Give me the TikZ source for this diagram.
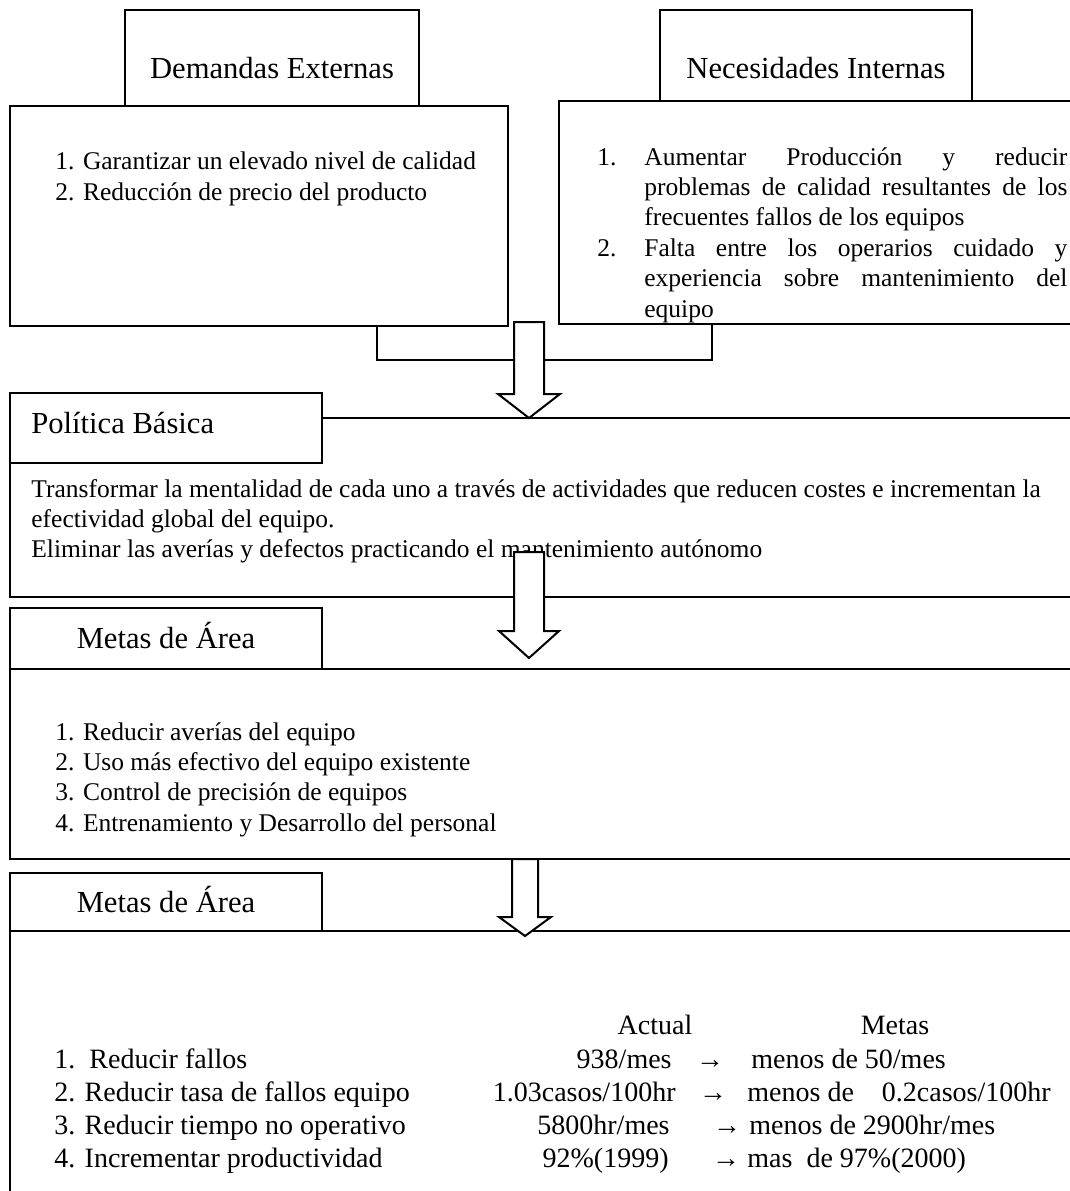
\documentclass[tikz,border=0pt]{standalone}
\usepackage{fontspec}
\setmainfont{Liberation Serif}
\usetikzlibrary{fit}
\begin{document}
\begin{tikzpicture}[x=0.5pt,y=-0.5pt,
  frame/.style={draw, line width=1pt, inner sep=0pt, fill=white},
  ttl/.style={font=\fontsize{15.3}{18}\selectfont, inner sep=0pt},
  txt/.style={font=\fontsize{12.75}{15}\selectfont, inner sep=0pt, anchor=base west},
  tab/.style={font=\fontsize{14}{16}\selectfont, inner sep=0pt},
  barrow/.style={draw, line width=1pt, fill=white, line join=miter},
  link/.style={draw, line width=1pt}]
\useasboundingbox (0,0) rectangle (1070,1191);

% ---- top boxes
\node[frame, fit={(10,106) (508,326)}] (debody) {};
\node[frame, fit={(125,10) (419,106)}] (detitle) {};
\node[frame, fit={(559,101) (1085,324)}] (nibody) {};
\node[frame, fit={(660,10) (972,101)}] (nititle) {};

\node[ttl, anchor=base] (detxt) at (272,78) {Demandas Externas};
\node[ttl, anchor=base] (nitxt) at (816,78) {Necesidades Internas};

\node[txt] (de1) at (55,169) {1. Garantizar un elevado nivel de calidad};
\node[txt] (de2) at (55,200) {2. Reducción de precio del producto};

\node[txt] (nin1) at (597,165) {1.};
\node[txt] (nia) at (644,165) {\makebox[211.5pt][s]{Aumentar Producción y reducir}};
\node[txt] (nib) at (644,195.4) {\makebox[211.5pt][s]{problemas de calidad resultantes de los}};
\node[txt] (nic) at (644,225.8) {frecuentes fallos de los equipos};
\node[txt] (nin2) at (597,256.2) {2.};
\node[txt] (nid) at (644,256.2) {\makebox[211.5pt][s]{Falta entre los operarios cuidado y}};
\node[txt] (nie) at (644,286.6) {\makebox[211.5pt][s]{experiencia sobre mantenimiento del}};
\node[txt] (nif) at (644,317) {equipo};

% connector
\coordinate (j1) at (377,360);
\coordinate (j2) at (712,360);
\draw[link] (debody.south -| j1) -- (j1) -- (j2) -- (nibody.south -| j2);

% ---- Politica Basica
\node[frame, fit={(10,418) (1085,597)}] (pbbody) {};
\node[frame, fit={(10,393) (322,463)}] (pbtitle) {};
\node[ttl, anchor=base west] (pbtxt) at (31,433) {Política Básica};
\node[txt] (pb1) at (31,497) {Transformar la mentalidad de cada uno a través de actividades que reducen costes e incrementan la};
\node[txt] (pb2) at (31,527) {efectividad global del equipo.};
\node[txt] (pb3) at (31,557) {Eliminar las averías y defectos practicando el mantenimiento autónomo};

% ---- Metas de Area 1
\node[frame, fit={(10,669) (1085,859)}] (m1body) {};
\node[frame, fit={(10,608) (322,669)}] (m1title) {};
\node[ttl, anchor=base] (m1txt) at (166,648) {Metas de Área};
\node[txt] (m11) at (55,740) {1. Reducir averías del equipo};
\node[txt] (m12) at (55,770) {2. Uso más efectivo del equipo existente};
\node[txt] (m13) at (55,800) {3. Control de precisión de equipos};
\node[txt] (m14) at (55,831) {4. Entrenamiento y Desarrollo del personal};

% ---- Metas de Area 2
\node[frame, fit={(10,931) (1085,1215)}] (m2body) {};
\node[frame, fit={(10,873) (322,931)}] (m2title) {};
\node[ttl, anchor=base] (m2txt) at (166,912) {Metas de Área};

\node[tab, anchor=base] (hact) at (655,1034) {Actual};
\node[tab, anchor=base] (hmet) at (895,1034) {Metas};

\node[tab, anchor=base west] (r1a) at (54,1068) {1.\ \ Reducir fallos};
\node[tab, anchor=base west] (r2a) at (54,1101) {2. Reducir tasa de fallos equipo};
\node[tab, anchor=base west] (r3a) at (54,1134) {3. Reducir tiempo no operativo};
\node[tab, anchor=base west] (r4a) at (54,1167) {4. Incrementar productividad};

\node[tab, anchor=base east] (r1b) at (672,1068) {938/mes};
\node[tab, anchor=base east] (r2b) at (676,1101) {1.03casos/100hr};
\node[tab, anchor=base east] (r3b) at (670,1134) {5800hr/mes};
\node[tab, anchor=base east] (r4b) at (669,1167) {92\%(1999)};

\node[tab, anchor=base] (r1c) at (710,1068) {→};
\node[tab, anchor=base] (r2c) at (713,1101) {→};
\node[tab, anchor=base] (r3c) at (727,1134) {→};
\node[tab, anchor=base] (r4c) at (726,1167) {→};

\node[tab, anchor=base west] (r1d) at (751,1068) {menos de 50/mes};
\node[tab, anchor=base west] (r2d) at (747,1101) {menos de\hspace{14pt}0.2casos/100hr};
\node[tab, anchor=base west] (r3d) at (749,1134) {menos de 2900hr/mes};
\node[tab, anchor=base west] (r4d) at (747,1167) {mas\ \ de 97\%(2000)};

% ---- block arrows
\path[barrow] (514,322) -- (514,394) -- (498,394) -- (529,418) -- (560,394) -- (544,394) -- (544,322) -- cycle;
\path[barrow] (514,552) -- (514,631) -- (499,631) -- (529,658) -- (559,631) -- (544,631) -- (544,552) -- cycle;
\path[barrow] (512,859) -- (512,917) -- (499,917) -- (525,936) -- (551,917) -- (538,917) -- (538,859) -- cycle;
\end{tikzpicture}
\end{document}
